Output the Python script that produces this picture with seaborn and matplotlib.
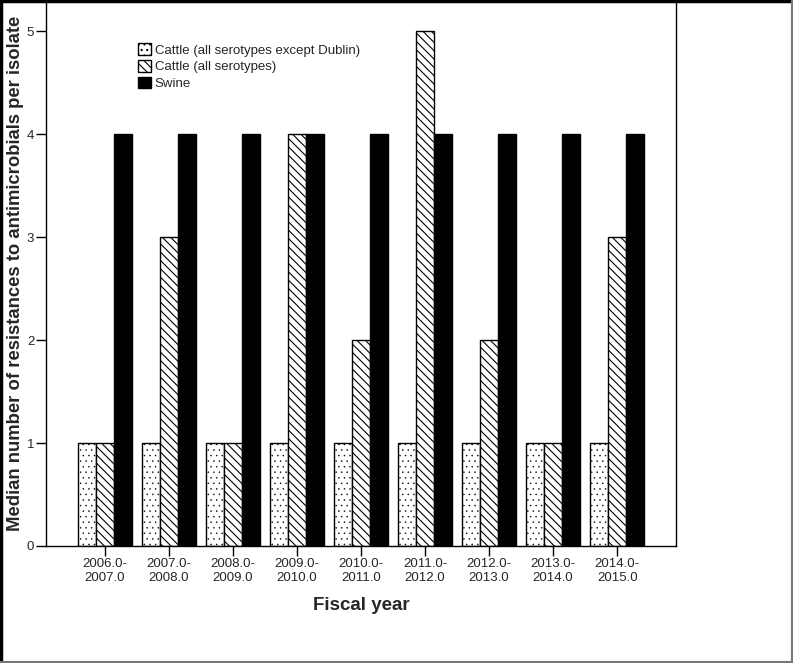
# Median resistances per isolate, by fiscal year
import matplotlib
matplotlib.use('Agg')
import matplotlib.pyplot as plt
from matplotlib.patches import Patch
from matplotlib.lines import Line2D
import pandas as pd
import seaborn as sns

# Dados
anos = ['2006.0-\n2007.0', '2007.0-\n2008.0', '2008.0-\n2009.0', '2009.0-\n2010.0',
        '2010.0-\n2011.0', '2011.0-\n2012.0', '2012.0-\n2013.0', '2013.0-\n2014.0',
        '2014.0-\n2015.0']
grupos = ['Cattle (all serotypes except Dublin)', 'Cattle (all serotypes)', 'Swine']
gado_sem_dublin = [1, 1, 1, 1, 1, 1, 1, 1, 1]
gado_todos = [1, 3, 1, 4, 2, 5, 2, 1, 3]
suinos = [4, 4, 4, 4, 4, 4, 4, 4, 4]

df = pd.DataFrame({
    'ano': anos * 3,
    'grupo': [grupos[0]] * 9 + [grupos[1]] * 9 + [grupos[2]] * 9,
    'mediana': gado_sem_dublin + gado_todos + suinos,
})

sns.set_style('white')
plt.rcParams['font.family'] = ['Liberation Sans', 'DejaVu Sans']
plt.rcParams['hatch.linewidth'] = 0.8

fig = plt.figure(figsize=(7.93, 6.63), dpi=100)
ax = fig.add_axes([0.058, 0.1765, 0.7945, 0.8215])

sns.barplot(data=df, x='ano', y='mediana', hue='grupo', hue_order=grupos,
            order=anos, width=0.85, ax=ax, legend=False, saturation=1)

# Estilo das barras (pontos, hachuras, preto)
estilos = [('white', '...', 0.3), ('white', '\\\\\\\\', 0.8), ('black', '', 0.8)]
for cont, (cor, hatch, lw_h) in zip(ax.containers, estilos):
    for barra in cont:
        barra.set_facecolor(cor)
        barra.set_edgecolor('black')
        barra.set_hatch(hatch)
        barra.set_linewidth(1.0)
        if hasattr(barra, 'set_hatch_linewidth'):
            barra.set_hatch_linewidth(lw_h)

ax.set_ylim(0, 5.29)
ax.set_xlim(-0.92, 8.92)
ax.set_yticks([0, 1, 2, 3, 4, 5])
ax.tick_params(axis='both', which='both', direction='out', length=7, width=1,
               labelsize=9.5, color='black', bottom=True, left=True)
ax.tick_params(axis='y', pad=1.5)
ax.tick_params(axis='x', pad=2)
for s in ax.spines.values():
    s.set_color('black')
    s.set_linewidth(1.0)

ax.set_xlabel('Fiscal year', fontsize=13.5, fontweight='bold', labelpad=9)
ax.set_ylabel('Median number of resistances to antimicrobials per isolate',
              fontsize=13.3, fontweight='bold', labelpad=2)

# Legenda
alcas = []
for (c, h, lw_h), g in zip(estilos, grupos):
    p = Patch(facecolor=c, edgecolor='black', hatch=h, label=g)
    if hasattr(p, 'set_hatch_linewidth'):
        p.set_hatch_linewidth(lw_h)
    alcas.append(p)
ax.legend(handles=alcas, loc='upper left', bbox_to_anchor=(0.137, 0.933),
          frameon=False, fontsize=9.5, handlelength=1.0, handleheight=1.0,
          handletextpad=0.3, labelspacing=0.25, borderaxespad=0)

# Moldura da figura
fig.add_artist(Line2D([0, 1], [0.999, 0.999], color='black', lw=2.5))
fig.add_artist(Line2D([0.001, 0.001], [0, 1], color='black', lw=2.5))
fig.add_artist(Line2D([0.999, 0.999], [0, 1], color='#777777', lw=1.5))
fig.add_artist(Line2D([0, 1], [0.002, 0.002], color='#777777', lw=1.5))

fig.savefig('out.png', dpi=100)
